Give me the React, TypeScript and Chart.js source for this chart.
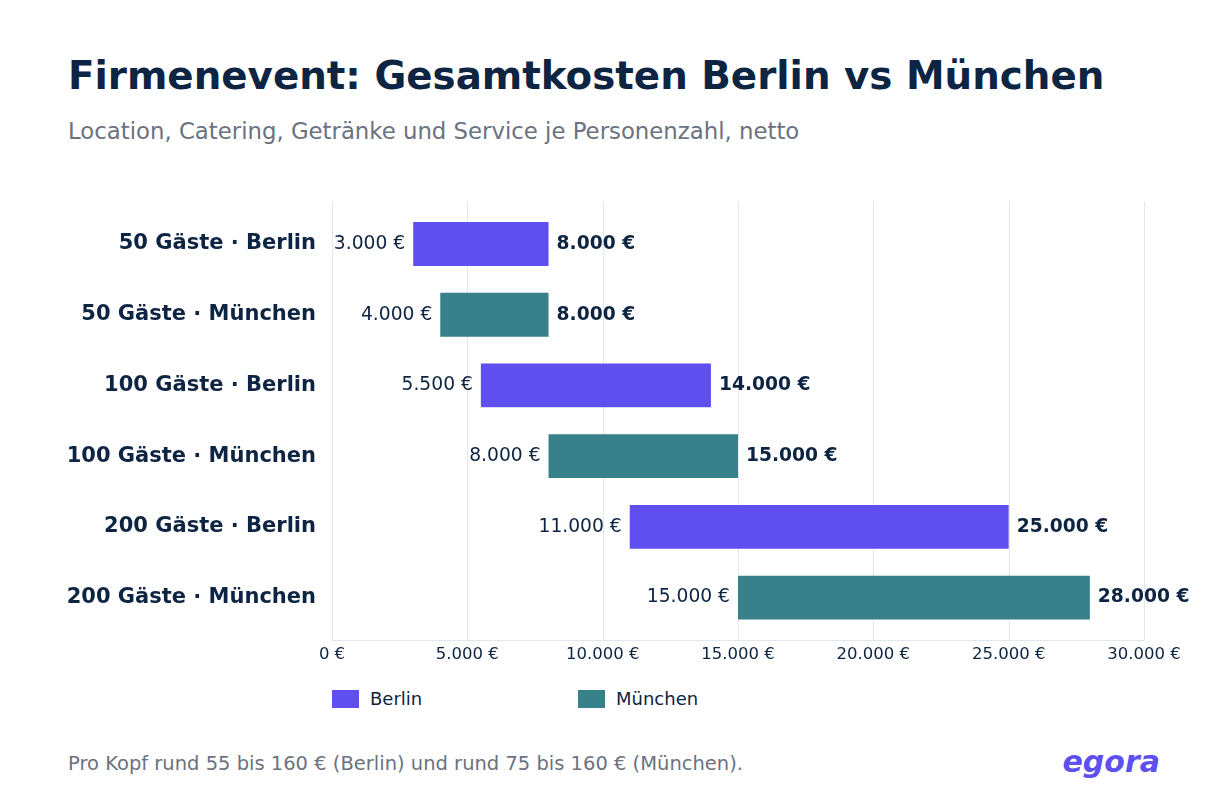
import { Chart, registerables } from 'chart.js';
import { useEffect, useRef } from 'react';

Chart.register(...registerables);

const guestCounts = [50, 100, 200];
const berlinLow = [3000, 5500, 11000];
const berlinHigh = [8000, 14000, 25000];
const muenchenLow = [4000, 8000, 15000];
const muenchenHigh = [8000, 15000, 28000];
const xTicks = [0, 5000, 10000, 15000, 20000, 25000, 30000];

const NAVY = '#0d2442';
const GRAY = '#6b7280';
const PURPLE = '#604fef';
const TEAL = '#38818a';
const GRID = '#e2e6ee';
const FONT = '"DejaVu Sans", sans-serif';

const euro = (v: number) => String(Math.round(v)).replace(/\B(?=(\d{3})+(?!\d))/g, '.') + ' €';

const categories: string[] = [];
const berlinData: ([number, number] | null)[] = [];
const muenchenData: ([number, number] | null)[] = [];
guestCounts.forEach((g, i) => {
    categories.push(`${g} Gäste · Berlin`);
    berlinData.push([berlinLow[i], berlinHigh[i]]);
    muenchenData.push(null);
    categories.push(`${g} Gäste · München`);
    berlinData.push(null);
    muenchenData.push([muenchenLow[i], muenchenHigh[i]]);
});

// grid drawn a bit beyond the category area, like the original
const gridPlugin = {
    id: 'extGrid',
    beforeDatasetsDraw(chart: any) {
        const { ctx, chartArea, scales } = chart;
        const ext = 7;
        ctx.save();
        ctx.lineWidth = 1;
        ctx.strokeStyle = GRID;
        xTicks.forEach((t) => {
            const x = Math.round(scales.x.getPixelForValue(t)) + 0.5;
            ctx.beginPath();
            ctx.moveTo(x, chartArea.top - ext);
            ctx.lineTo(x, chartArea.bottom + ext);
            ctx.stroke();
        });
        const yb = Math.round(chartArea.bottom + ext) + 0.5;
        ctx.beginPath();
        ctx.moveTo(chartArea.left, yb);
        ctx.lineTo(chartArea.right, yb);
        ctx.stroke();
        ctx.restore();
    },
};

const valueLabels = {
    id: 'valueLabels',
    afterDatasetsDraw(chart: any) {
        const { ctx } = chart;
        ctx.save();
        ctx.fillStyle = NAVY;
        ctx.textBaseline = 'middle';
        chart.data.datasets.forEach((ds: any, di: number) => {
            const meta = chart.getDatasetMeta(di);
            meta.data.forEach((bar: any, i: number) => {
                const v = ds.data[i];
                if (!v) return;
                const { x, base, y } = bar.getProps(['x', 'base', 'y'], true);
                ctx.font = `18.7px ${FONT}`;
                ctx.textAlign = 'right';
                ctx.fillText(euro(v[0]), Math.min(x, base) - 8, y);
                ctx.font = `bold 18.7px ${FONT}`;
                ctx.textAlign = 'left';
                ctx.fillText(euro(v[1]), Math.max(x, base) + 8, y);
            });
        });
        ctx.restore();
    },
};

const abs = (s: any) => ({ position: 'absolute' as const, margin: 0, lineHeight: 1, whiteSpace: 'nowrap' as const, ...s });

export default function App() {
    const canvasRef = useRef<HTMLCanvasElement>(null);

    useEffect(() => {
        const canvas = canvasRef.current;
        if (!canvas) return;
        const chart = new Chart(canvas, {
            type: 'bar',
            data: {
                labels: categories,
                datasets: [
                    { label: 'Berlin', data: berlinData as any, backgroundColor: PURPLE, grouped: false, skipNull: true } as any,
                    { label: 'München', data: muenchenData as any, backgroundColor: TEAL, grouped: false, skipNull: true } as any,
                ],
            },
            options: {
                indexAxis: 'y',
                responsive: false,
                animation: false,
                devicePixelRatio: 1,
                layout: { padding: { top: 27, right: 86, left: 0, bottom: 0 } },
                datasets: { bar: { categoryPercentage: 0.62, barPercentage: 1, borderWidth: 0 } },
                plugins: { legend: { display: false }, tooltip: { enabled: false } },
                scales: {
                    x: {
                        min: 0,
                        max: 30000,
                        afterBuildTicks: (s: any) => { s.ticks = xTicks.map((v) => ({ value: v })); },
                        afterFit: (s: any) => { s.height = 37; },
                        grid: { display: false, drawTicks: false },
                        border: { display: false },
                        ticks: { padding: 12, color: NAVY, font: { family: FONT, size: 16.5 }, callback: (v: any) => euro(Number(v)), maxRotation: 0 },
                    },
                    y: {
                        afterFit: (s: any) => { s.width = 332; },
                        grid: { display: false, drawTicks: false },
                        border: { display: true, color: GRID },
                        ticks: { padding: 16, color: NAVY, font: { family: FONT, size: 21, weight: 'bold' } },
                    },
                },
            },
            plugins: [gridPlugin, valueLabels],
        });
        return () => chart.destroy();
    }, []);

    return (
        <div style={{ position: 'absolute', left: 0, top: 0, width: 1230, height: 800, background: '#fff', fontFamily: FONT }}>
            <h1 style={abs({ left: 68, top: 57, fontSize: 38.8, fontWeight: 'bold', color: NAVY })}>
                Firmenevent: Gesamtkosten Berlin vs München
            </h1>
            <div style={abs({ left: 68, top: 119.5, fontSize: 22.8, color: GRAY })}>
                Location, Catering, Getränke und Service je Personenzahl, netto
            </div>
            <canvas ref={canvasRef} width={1230} height={490} style={{ position: 'absolute', left: 0, top: 180, width: 1230, height: 490 }} />
            <div style={abs({ left: 332, top: 690, width: 27, height: 18, background: PURPLE })} />
            <div style={abs({ left: 370, top: 690, fontSize: 18, color: NAVY })}>Berlin</div>
            <div style={abs({ left: 578, top: 690, width: 27, height: 18, background: TEAL })} />
            <div style={abs({ left: 616, top: 690, fontSize: 18, color: NAVY })}>München</div>
            <div style={abs({ left: 68, top: 753.5, fontSize: 19.5, color: GRAY })}>
                Pro Kopf rund 55 bis 160 € (Berlin) und rund 75 bis 160 € (München).
            </div>
            <div style={abs({ right: 70, top: 747, fontSize: 30, fontWeight: 'bold', fontStyle: 'italic', color: PURPLE })}>
                egora
            </div>
        </div>
    );
}
